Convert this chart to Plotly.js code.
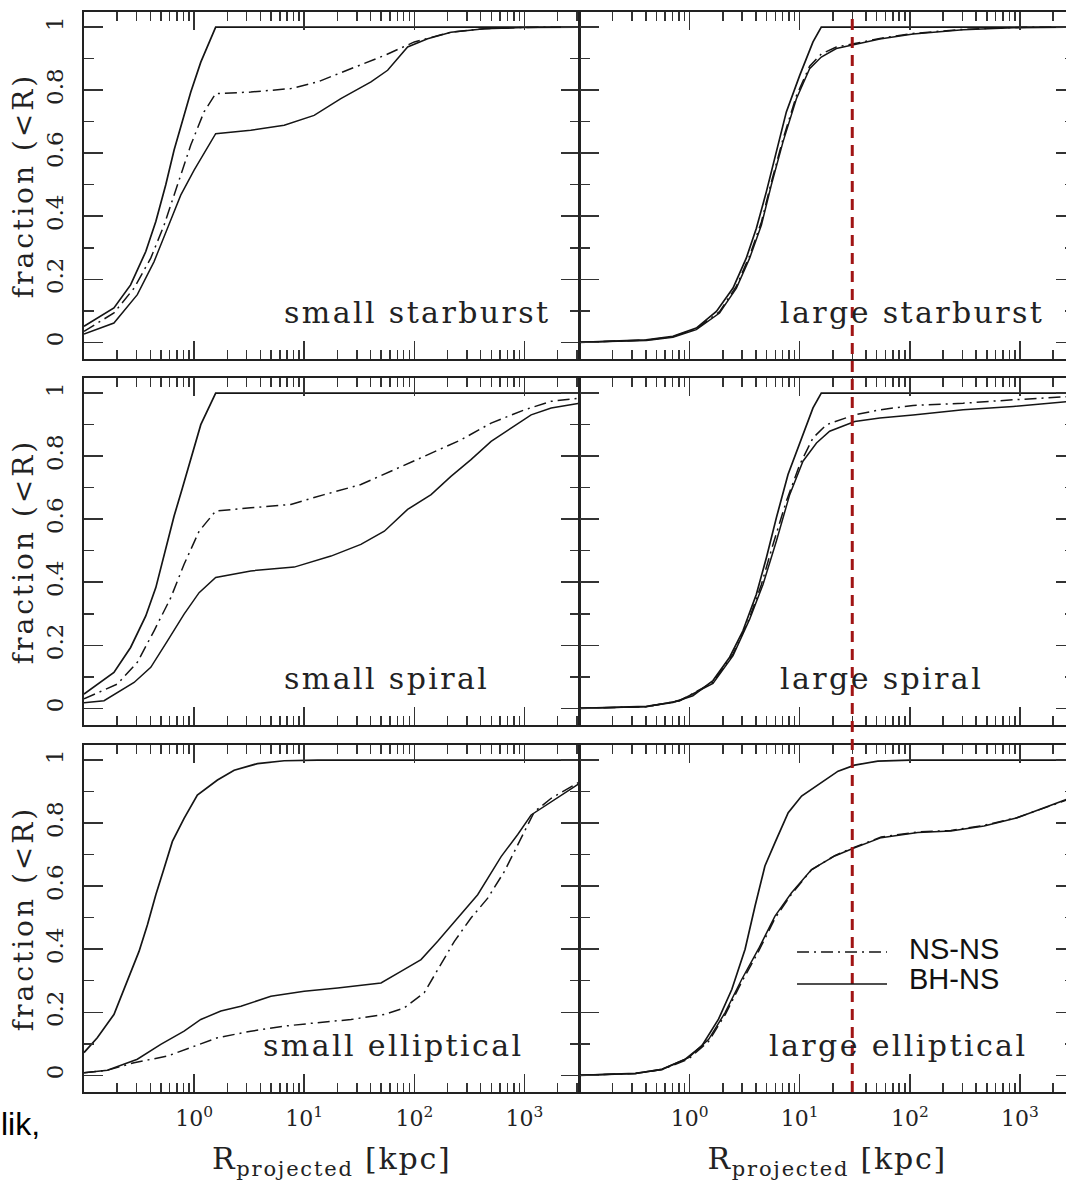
<!DOCTYPE html>
<html>
<head>
<meta charset="utf-8">
<script src="https://cdn.plot.ly/plotly-3.0.1.min.js"></script>
<style>
  html, body { margin: 0; padding: 0; overflow: hidden; background: #fff; }
  #chart { width: 1080px; height: 1184px; }
  /* the original PGPLOT-style roman font is wider than DejaVu Serif */
  text.annotation-text[style*="DejaVu Serif"] { letter-spacing: 2.4px; }
  text[class^="y"][class$="title"] { letter-spacing: 3px; }
  text[class^="x"][class$="title"] { letter-spacing: 1.8px; }
</style>
</head>
<body>
<div id="chart"></div>
<script>
// ---------------- DATA ----------------
// R in kpc, f = cumulative fraction (<R)

// small starburst
const ssb_top_R  = [0.1, 0.187, 0.265, 0.364, 0.449, 0.552, 0.658, 0.783, 0.933, 1.15, 1.57, 3162];
const ssb_top_f  = [0.051, 0.109, 0.182, 0.288, 0.383, 0.499, 0.610, 0.699, 0.794, 0.889, 1.0, 1.0];
const ssb_nsns_R = [0.1, 0.187, 0.285, 0.404, 0.534, 0.705, 0.933, 1.23, 1.57, 3.27, 7.56, 13.2, 26.6, 53.4, 100, 215, 433, 1000, 3162];
const ssb_nsns_f = [0.035, 0.093, 0.172, 0.267, 0.372, 0.499, 0.626, 0.731, 0.789, 0.794, 0.805, 0.826, 0.868, 0.910, 0.953, 0.984, 0.995, 0.999, 1.0];
const ssb_bhns_R = [0.1, 0.187, 0.305, 0.433, 0.573, 0.756, 1.0, 1.57, 3.27, 6.58, 12.3, 21.5, 40.4, 57.2, 86.9, 132, 215, 433, 1000, 3162];
const ssb_bhns_f = [0.026, 0.061, 0.151, 0.256, 0.362, 0.467, 0.546, 0.662, 0.673, 0.689, 0.720, 0.773, 0.826, 0.863, 0.937, 0.963, 0.984, 0.995, 0.999, 1.0];

// large starburst
const lsb_top_R  = [0.1, 0.404, 0.705, 1.15, 1.75, 2.48, 3.27, 4.04, 4.98, 6.14, 7.56, 10.0, 13.2, 15.7, 3162];
const lsb_top_f  = [0.0, 0.008, 0.019, 0.045, 0.098, 0.172, 0.267, 0.362, 0.478, 0.605, 0.731, 0.847, 0.953, 1.0, 1.0];
const lsb_nsns_R = [0.1, 0.404, 0.705, 1.15, 1.87, 2.66, 3.51, 4.49, 5.52, 7.05, 9.33, 12.3, 15.7, 21.5, 31.6, 53.4, 107, 305, 869, 3162];
const lsb_nsns_f = [0.0, 0.007, 0.018, 0.043, 0.097, 0.178, 0.275, 0.382, 0.508, 0.645, 0.782, 0.876, 0.915, 0.937, 0.948, 0.964, 0.980, 0.993, 0.999, 1.0];
const lsb_bhns_R = [0.1, 0.404, 0.705, 1.15, 1.87, 2.66, 3.51, 4.49, 5.52, 7.05, 9.33, 12.3, 15.7, 21.5, 31.6, 53.4, 107, 305, 869, 3162];
const lsb_bhns_f = [0.0, 0.006, 0.016, 0.040, 0.093, 0.172, 0.267, 0.372, 0.499, 0.636, 0.773, 0.868, 0.905, 0.932, 0.945, 0.962, 0.978, 0.992, 0.998, 1.0];

// small spiral
const ssp_top_R  = [0.1, 0.187, 0.265, 0.364, 0.449, 0.552, 0.658, 0.783, 0.933, 1.15, 1.57, 3162];
const ssp_top_f  = [0.045, 0.114, 0.193, 0.293, 0.383, 0.510, 0.610, 0.699, 0.794, 0.900, 1.0, 1.0];
const ssp_nsns_R = [0.1, 0.201, 0.305, 0.433, 0.614, 0.811, 1.11, 1.57, 3.27, 7.56, 15.2, 32.7, 65.8, 132, 266, 498, 1000, 1750, 3162];
const ssp_nsns_f = [0.030, 0.077, 0.146, 0.246, 0.351, 0.457, 0.562, 0.626, 0.636, 0.647, 0.678, 0.710, 0.757, 0.805, 0.852, 0.905, 0.947, 0.974, 0.984];
const ssp_bhns_R = [0.1, 0.152, 0.285, 0.404, 0.573, 0.811, 1.11, 1.57, 3.27, 8.11, 17.5, 32.7, 53.4, 86.9, 142, 215, 327, 498, 756, 1150, 1750, 3162];
const ssp_bhns_f = [0.018, 0.024, 0.082, 0.130, 0.214, 0.299, 0.367, 0.415, 0.436, 0.448, 0.483, 0.520, 0.562, 0.631, 0.678, 0.736, 0.789, 0.847, 0.889, 0.931, 0.953, 0.968];

// large spiral
const lsp_top_R  = [0.1, 0.404, 0.705, 1.07, 1.63, 2.31, 3.05, 4.04, 4.98, 6.14, 7.83, 10.4, 13.2, 15.7, 3162];
const lsp_top_f  = [0.0, 0.006, 0.019, 0.040, 0.088, 0.162, 0.246, 0.362, 0.478, 0.605, 0.742, 0.858, 0.953, 1.0, 1.0];
const lsp_nsns_R = [0.1, 0.404, 0.811, 1.63, 2.48, 3.51, 4.49, 5.72, 7.56, 10.0, 13.2, 17.5, 31.6, 53.4, 107, 305, 869, 3162];
const lsp_nsns_f = [0.0, 0.005, 0.024, 0.082, 0.172, 0.288, 0.393, 0.520, 0.657, 0.773, 0.858, 0.900, 0.931, 0.947, 0.961, 0.968, 0.979, 0.990];
const lsp_bhns_R = [0.1, 0.404, 0.811, 1.63, 2.48, 3.51, 4.64, 6.14, 8.11, 10.7, 14.2, 18.7, 31.6, 53.4, 107, 305, 869, 3162];
const lsp_bhns_f = [0.0, 0.005, 0.024, 0.079, 0.167, 0.283, 0.393, 0.531, 0.678, 0.784, 0.842, 0.879, 0.910, 0.921, 0.931, 0.947, 0.958, 0.975];

// small elliptical
const sel_top_R  = [0.1, 0.132, 0.187, 0.248, 0.316, 0.377, 0.449, 0.534, 0.635, 0.811, 1.07, 1.63, 2.31, 3.76, 6.58, 13.2, 3162];
const sel_top_f  = [0.072, 0.119, 0.193, 0.299, 0.393, 0.478, 0.573, 0.657, 0.742, 0.815, 0.889, 0.937, 0.968, 0.989, 0.998, 1.0, 1.0];
const sel_nsns_R = [0.1, 0.163, 0.285, 0.573, 0.933, 1.63, 3.27, 6.58, 13.2, 26.6, 53.4, 81.1, 123, 175, 231, 327, 464, 658, 933, 1230, 1750, 3162];
const sel_nsns_f = [0.008, 0.016, 0.040, 0.061, 0.088, 0.119, 0.140, 0.156, 0.167, 0.177, 0.193, 0.214, 0.262, 0.351, 0.425, 0.499, 0.562, 0.647, 0.752, 0.836, 0.879, 0.931];
const sel_bhns_R = [0.1, 0.163, 0.305, 0.498, 0.811, 1.15, 1.75, 2.66, 4.98, 10.0, 20.1, 49.8, 75.6, 115, 163, 231, 376, 614, 869, 1150, 1750, 3162];
const sel_bhns_f = [0.008, 0.016, 0.051, 0.098, 0.140, 0.177, 0.204, 0.219, 0.251, 0.267, 0.277, 0.293, 0.330, 0.367, 0.425, 0.488, 0.573, 0.694, 0.764, 0.826, 0.868, 0.926];

// large elliptical
const lel_top_R  = [0.1, 0.323, 0.562, 0.914, 1.29, 1.83, 2.42, 3.19, 3.93, 4.83, 5.96, 7.86, 10.4, 14.7, 22.3, 31.5, 51.2, 100, 3162];
const lel_top_f  = [0.0, 0.006, 0.019, 0.051, 0.093, 0.178, 0.273, 0.400, 0.537, 0.664, 0.738, 0.833, 0.886, 0.923, 0.965, 0.984, 0.997, 1.0, 1.0];
const lel_nsns_R = [0.1, 0.323, 0.562, 0.98, 1.49, 2.10, 2.97, 4.21, 5.96, 8.43, 12.8, 20.8, 31.5, 54.9, 118, 236, 472, 946, 2640, 3162];
const lel_nsns_f = [0.0, 0.006, 0.018, 0.052, 0.108, 0.192, 0.296, 0.392, 0.498, 0.575, 0.652, 0.697, 0.724, 0.756, 0.772, 0.777, 0.793, 0.818, 0.873, 0.880];
const lel_bhns_R = [0.1, 0.323, 0.562, 0.98, 1.49, 2.10, 2.97, 4.21, 5.96, 8.43, 12.8, 20.8, 31.5, 54.9, 118, 236, 472, 946, 2640, 3162];
const lel_bhns_f = [0.0, 0.006, 0.019, 0.056, 0.114, 0.199, 0.304, 0.400, 0.505, 0.579, 0.653, 0.696, 0.722, 0.754, 0.770, 0.775, 0.791, 0.817, 0.875, 0.882];

const panelLabels = ['small starburst', 'large starburst', 'small spiral', 'large spiral', 'small elliptical', 'large elliptical'];
const legendNames = ['NS-NS', 'BH-NS'];
const xTickVals = [1, 10, 100, 1000];
const xTickText = ['10<sup>0</sup>', '10<sup>1</sup>', '10<sup>2</sup>', '10<sup>3</sup>'];
const yTickVals = [0, 0.2, 0.4, 0.6, 0.8, 1];
const yTickText = ['0', '0.2', '0.4', '0.6', '0.8', '1'];
const yTitle = 'fraction (&lt;R)';
const xTitle = 'R<sub>projected</sub> [kpc]';
const cutoffR = 30;   // red dashed reference line (kpc)
const sideText = 'lik,';

// ---------------- BUILD ----------------
const panels = [
  [ssb_top_R, ssb_top_f, ssb_nsns_R, ssb_nsns_f, ssb_bhns_R, ssb_bhns_f],
  [lsb_top_R, lsb_top_f, lsb_nsns_R, lsb_nsns_f, lsb_bhns_R, lsb_bhns_f],
  [ssp_top_R, ssp_top_f, ssp_nsns_R, ssp_nsns_f, ssp_bhns_R, ssp_bhns_f],
  [lsp_top_R, lsp_top_f, lsp_nsns_R, lsp_nsns_f, lsp_bhns_R, lsp_bhns_f],
  [sel_top_R, sel_top_f, sel_nsns_R, sel_nsns_f, sel_bhns_R, sel_bhns_f],
  [lel_top_R, lel_top_f, lel_nsns_R, lel_nsns_f, lel_bhns_R, lel_bhns_f]
];

const INK = '#151515';
const DASHDOT = '12px,5px,2px,5px';
const colDom = [[0, 0.5], [0.5, 1]];
const rowDom = [[0.6787, 1], [0.3398, 0.6611], [0, 0.3213]];
const labelX = [0.40, 0.40, 0.40, 0.40, 0.357, 0.378];

// minor tick positions for the log axis (2..9 per decade)
const xMinor = [];
for (let e = -1; e <= 3; e++) {
  for (let m = 2; m <= 9; m++) xMinor.push(m * Math.pow(10, e));
}

const traces = [];
const layout = {
  width: 1080, height: 1184,
  margin: {l: 84, r: 5, t: 12, b: 92},
  paper_bgcolor: '#fff', plot_bgcolor: '#fff',
  showlegend: false,
  font: {family: 'DejaVu Serif', color: '#222'},
  annotations: [], shapes: []
};

panels.forEach((p, i) => {
  const n = i + 1;
  const row = Math.floor(i / 2), col = i % 2;
  const xa = 'x' + n, ya = 'y' + n;
  traces.push({x: p[0], y: p[1], xaxis: xa, yaxis: ya, mode: 'lines', type: 'scatter',
    line: {color: INK, width: 1.7}, hoverinfo: 'skip'});
  traces.push({x: p[2], y: p[3], xaxis: xa, yaxis: ya, mode: 'lines', type: 'scatter', name: legendNames[0],
    line: {color: INK, width: 1.5, dash: DASHDOT}, hoverinfo: 'skip'});
  traces.push({x: p[4], y: p[5], xaxis: xa, yaxis: ya, mode: 'lines', type: 'scatter', name: legendNames[1],
    line: {color: INK, width: 1.5}, hoverinfo: 'skip'});

  const xax = {
    type: 'log', range: [-1, 3.5], domain: colDom[col], anchor: ya,
    showline: true, linecolor: '#222', linewidth: 1.6, mirror: 'allticks',
    ticks: 'inside', ticklen: 18, tickwidth: 1.5, tickcolor: '#333',
    tickmode: 'array', tickvals: xTickVals, ticktext: xTickText,
    showticklabels: row === 2, ticklabelstandoff: 6,
    tickfont: {family: 'DejaVu Serif', size: 22, color: '#222'},
    minor: {ticks: 'inside', ticklen: 9, tickwidth: 1.5, tickcolor: '#333', tickmode: 'array', tickvals: xMinor},
    showgrid: false, zeroline: false, automargin: false, fixedrange: true
  };
  if (row === 2) xax.title = {text: xTitle, font: {family: 'DejaVu Serif', size: 30, color: '#222'}, standoff: 18};
  layout['xaxis' + (n === 1 ? '' : n)] = xax;

  const yax = {
    range: [-0.053, 1.048], domain: rowDom[row], anchor: xa,
    showline: true, linecolor: '#222', linewidth: 1.6, mirror: 'allticks',
    ticks: 'inside', ticklen: 19, tickwidth: 1.5, tickcolor: '#333',
    tickmode: 'array', tickvals: yTickVals, ticktext: yTickText,
    showticklabels: col === 0, tickangle: -90, ticklabelstandoff: 10,
    tickfont: {family: 'DejaVu Serif', size: 23, color: '#222'},
    minor: {ticks: 'inside', ticklen: 10, tickwidth: 1.5, tickcolor: '#333', dtick: 0.1, tick0: 0},
    showgrid: false, zeroline: false, automargin: false, fixedrange: true
  };
  if (col === 0) yax.title = {text: yTitle, font: {family: 'DejaVu Serif', size: 28, color: '#222'}, standoff: 0};
  layout['yaxis' + (n === 1 ? '' : n)] = yax;

  layout.annotations.push({
    xref: xa + ' domain', yref: ya + ' domain', x: labelX[i], y: 0.133,
    xanchor: 'left', yanchor: 'middle', showarrow: false, text: panelLabels[i],
    font: {family: 'DejaVu Serif', size: 30, color: '#222'}
  });
});

// red dashed reference line through the right column
layout.shapes.push({type: 'line', xref: 'x2', yref: 'paper', x0: cutoffR, x1: cutoffR, y0: 0, y1: 1,
  line: {color: '#a01414', width: 3, dash: '11px,7px'}, layer: 'above'});

// legend (inside bottom-right panel)
layout.shapes.push({type: 'line', xref: 'paper', yref: 'paper', x0: 0.7195, x1: 0.8103, y0: 0.1296, y1: 0.1296,
  line: {color: INK, width: 1.5, dash: DASHDOT}});
layout.shapes.push({type: 'line', xref: 'paper', yref: 'paper', x0: 0.7195, x1: 0.8103, y0: 0.1000, y1: 0.1000,
  line: {color: INK, width: 1.5}});
layout.annotations.push({xref: 'paper', yref: 'paper', x: 0.8300, y: 0.1324, xanchor: 'left', yanchor: 'middle',
  showarrow: false, text: legendNames[0], font: {family: 'Liberation Sans', size: 29, color: '#111'}});
layout.annotations.push({xref: 'paper', yref: 'paper', x: 0.8300, y: 0.1046, xanchor: 'left', yanchor: 'middle',
  showarrow: false, text: legendNames[1], font: {family: 'Liberation Sans', size: 29, color: '#111'}});

// cut-off caption fragment at lower left
layout.annotations.push({xref: 'paper', yref: 'paper', x: -0.0855, y: -0.0296, xanchor: 'left', yanchor: 'middle',
  showarrow: false, text: sideText, font: {family: 'Liberation Sans', size: 32, color: '#000'}});

Plotly.newPlot('chart', traces, layout, {staticPlot: true, displayModeBar: false});
</script>
</body>
</html>
